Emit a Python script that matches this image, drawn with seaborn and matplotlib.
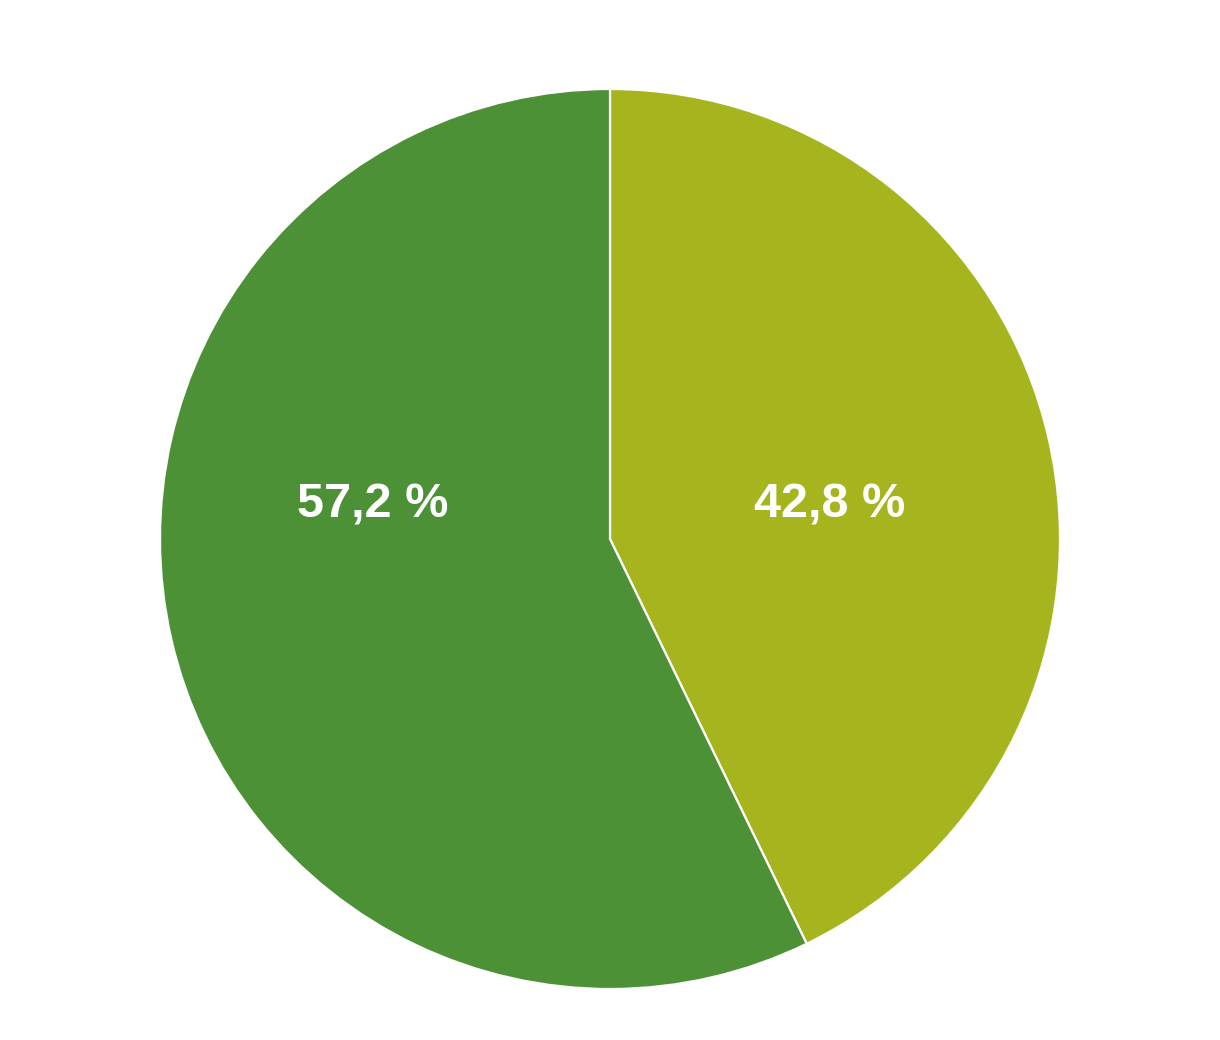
import matplotlib
matplotlib.use("Agg")
import matplotlib.pyplot as plt
import seaborn as sns

categories = ["A", "B"]
shares = [42.8, 57.2]
colors = ["#A6B51D", "#4C9136"]

sns.set_theme(style="white")
plt.rcParams["font.family"] = ["Liberation Sans", "DejaVu Sans"]

fig = plt.figure(figsize=(12.2, 10.4), dpi=100)
ax = fig.add_axes([160 / 1220, 51 / 1040, 900 / 1220, 900 / 1040])

wedges, texts, autotexts = ax.pie(
    shares,
    colors=colors,
    startangle=90,
    counterclock=False,
    radius=1.0,
    wedgeprops=dict(edgecolor="white", linewidth=1.6),
    autopct=lambda p: f"{p:.1f} %".replace(".", ","),
    pctdistance=0.5,
    textprops=dict(color="white", fontsize=35, fontweight="bold"),
)

# labels sit at the same height in the original
label_x = [0.489, -0.527]
for t, x in zip(autotexts, label_x):
    t.set_position((x, 0.075))
    t.set_ha("center")
    t.set_va("center")

ax.set_xlim(-1, 1)
ax.set_ylim(-1, 1)
ax.set_aspect("equal")
ax.axis("off")

fig.savefig("out.png", dpi=100, facecolor="white")
